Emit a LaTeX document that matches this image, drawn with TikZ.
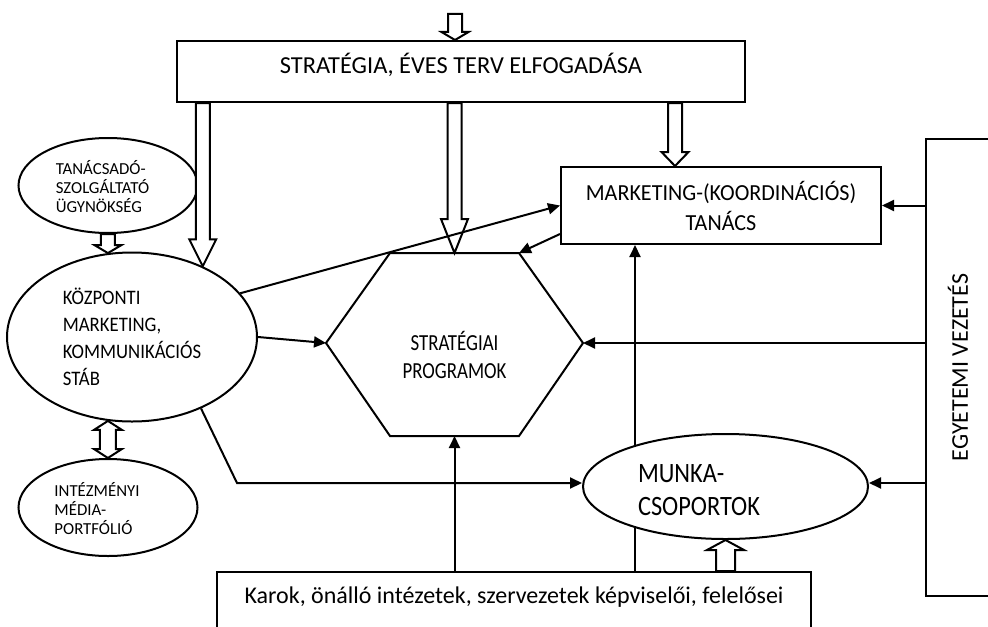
\documentclass[tikz,border=0pt]{standalone}
\usepackage{fontspec}
\setmainfont{Carlito}
\usetikzlibrary{arrows.meta,calc,shapes.geometric}

% widths of the hollow arrows
\def\shaftw{3.5pt}
\def\headw{6.75pt}
% hollow (outlined) vertical arrow, head length as option
\newcommand{\hollowarrow}[3][5pt]{%
  \draw[fill=white] let \p1=(#2), \p2=(#3), \n1={ifthenelse(\y1>\y2,1,-1)} in
    (\x2-\shaftw,\y1) -- (\x2-\shaftw,\y2+\n1*#1) -- (\x2-\headw,\y2+\n1*#1) -- (\x2,\y2)
    -- (\x2+\headw,\y2+\n1*#1) -- (\x2+\shaftw,\y2+\n1*#1) -- (\x2+\shaftw,\y1) -- cycle;}
% hollow arrow with two heads, first point above
\newcommand{\hollowboth}[2]{%
  \draw[fill=white] let \p1=(#1), \p2=(#2) in
    (\x1,\y1) -- (\x1+7pt,\y1-4.5pt) -- (\x1+4pt,\y1-4.5pt) -- (\x1+4pt,\y2+4.5pt)
    -- (\x1+7pt,\y2+4.5pt) -- (\x1,\y2) -- (\x1-7pt,\y2+4.5pt) -- (\x1-4pt,\y2+4.5pt)
    -- (\x1-4pt,\y1-4.5pt) -- (\x1-7pt,\y1-4.5pt) -- cycle;}

\begin{document}
\begin{tikzpicture}[x=0.5pt,y=-0.5pt,line width=1pt,
    box/.style={draw,fill=white,inner sep=0pt},
    oval/.style={draw,fill=white,ellipse,inner sep=0pt,align=left},
    small/.style={font=\fontsize{8.4}{9.5}\selectfont,align=left},
    arr/.style={-{Triangle[length=6pt,width=5.5pt]}}]
  \useasboundingbox (0,0) rectangle (988,626);
  \clip (0,0) rectangle (988,626);

  % boxes
  \node[box,minimum width=284pt,minimum height=30.5pt,text height=9pt,text depth=6.7pt,
    font=\fontsize{12.2}{15}\selectfont] (terv) at (461,71.5) {STRATÉGIA, ÉVES TERV ELFOGADÁSA};
  \node[box,minimum width=160pt,minimum height=38.5pt,align=center,
    font=\fontsize{11.5}{15}\selectfont\addfontfeatures{FakeStretch=0.96}] (tanacs) at (721,205.5) {MARKETING-(KOORDINÁCIÓS)\\TANÁCS};
  \node[box,anchor=north,minimum width=297pt,text height=9pt,text depth=40pt,inner ysep=6.5pt,
    font=\fontsize{12}{15}\selectfont] (karok) at (514,571) {Karok, önálló intézetek, szervezetek képviselői, felelősei};
  \node[box,rotate=90,minimum width=228.5pt,minimum height=32pt,
    font=\fontsize{12}{15}\selectfont] (vez) at (958,367.5) {EGYETEMI VEZETÉS};

  % hexagon
  \draw[fill=white] (390,253) coordinate (h1) -- (519,253) coordinate (h2) -- (583,343) coordinate (h3)
    -- (519,436) coordinate (h4) -- (390,436) coordinate (h5) -- (326,343) coordinate (h6) -- cycle;
  \node[align=center,font=\fontsize{11.5}{14}\selectfont\addfontfeatures{FakeStretch=0.82}] (prog) at (454.5,355) {STRATÉGIAI\\PROGRAMOK};
  \coordinate (hfel) at (454.5,253);
  \coordinate (hle) at (454.5,436);

  % ellipses
  \node[oval,minimum width=125pt,minimum height=84.5pt,
    font=\fontsize{10.3}{13.5}\selectfont\addfontfeatures{FakeStretch=0.91}] (kozp) at (132,337) {KÖZPONTI\\MARKETING,\\KOMMUNIKÁCIÓS\\STÁB};
  \node[oval,minimum width=89.5pt,minimum height=47.5pt,
    label={[small,xshift=-2.75pt,yshift=-0.75pt]center:{TANÁCSADÓ-\\SZOLGÁLTATÓ\\ÜGYNÖKSÉG}}] (tsz) at (108,185.5) {};
  \node[oval,minimum width=89.5pt,minimum height=48.5pt,
    label={[small,xshift=-5.5pt,yshift=-0.75pt]center:{INTÉZMÉNYI\\MÉDIA-\\PORTFÓLIÓ}}] (media) at (108,507.5) {};

  % hollow arrows
  \coordinate (be) at (455,14);
  \coordinate (tbe) at ([xshift=-23pt]tanacs.north);
  \hollowarrow[4pt]{be}{terv.north -| be}
  \hollowarrow[13.5pt]{terv.south -| kozp.45}{kozp.45}
  \hollowarrow[17pt]{terv.south -| hfel}{hfel}
  \hollowarrow[7pt]{terv.south -| tbe}{tbe}
  \hollowarrow[4pt]{tsz.south}{kozp.106}
  \hollowboth{kozp.254}{media.north}

  % line behind the working groups
  \coordinate (tfel) at ([xshift=37.5pt]tanacs.south west);
  \draw[arr] (karok.north -| tfel) -- (tfel);

  \node[oval,minimum width=142.5pt,minimum height=52.5pt,
    label={[align=left,font=\fontsize{14}{16.5}\selectfont\addfontfeatures{FakeStretch=0.87},
      xshift=-13.25pt,yshift=-2pt]center:{MUNKA-\\CSOPORTOK}}] (munka) at (725.5,486.5) {};
  {\def\shaftw{4.75pt}\def\headw{9.25pt}
  \hollowarrow[5pt]{karok.north -| munka.south}{munka.south}}

  % connectors
  \coordinate (kanyar) at (237,483);
  \draw[arr] (kozp.22) -- (tanacs.west);
  \draw[arr] ([yshift=5.5pt]tanacs.south west) -- (h2);
  \draw[arr] (kozp.east) -- (h6);
  \draw[arr] (vez.north |- h3) -- (h3);
  \draw[arr] (vez.north |- tanacs.east) -- (tanacs.east);
  \draw[arr] (vez.north |- kanyar) -- (munka.east |- kanyar);
  \draw[arr] (kozp.-46) -- (kanyar) -- (munka.west |- kanyar);
  \draw[arr] (karok.north -| hle) -- (hle);
\end{tikzpicture}
\end{document}
